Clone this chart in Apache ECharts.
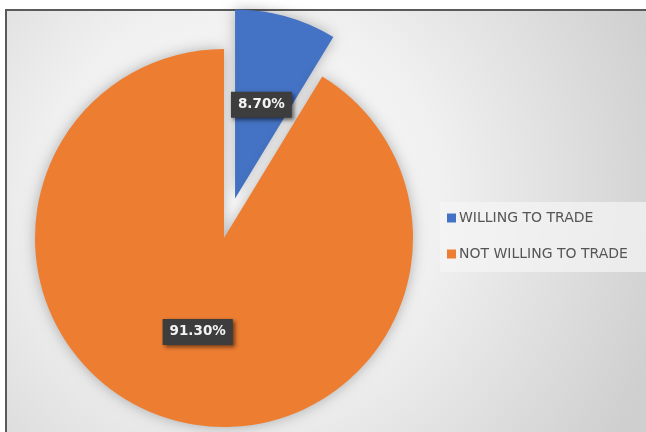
<!DOCTYPE html>
<html>
<head>
<meta charset="utf-8">
<style>
  html, body { margin: 0; padding: 0; background: #ffffff; }
  #chart { width: 646px; height: 432px; }
</style>
<script src="https://cdn.jsdelivr.net/npm/echarts@6/dist/echarts.min.js"></script>
</head>
<body>
<div id="chart"></div>
<script>
// Survey result: share of respondents willing to trade
const categories = ['WILLING TO TRADE', 'NOT WILLING TO TRADE'];
const shares = [8.70, 91.30];
const sliceColors = ['#4472C4', '#ED7D31'];

const chart = echarts.init(document.getElementById('chart'), null, { renderer: 'canvas' });

const pieData = categories.map((name, i) => ({
  name: name,
  value: shares[i],
  selected: i === 0,
  itemStyle: { color: sliceColors[i] }
}));

chart.setOption({
  animation: false,
  backgroundColor: '#ffffff',
  graphic: [
    {
      type: 'rect',
      z: -10,
      silent: true,
      shape: { x: 6, y: 10, width: 660, height: 440 },
      style: {
        fill: {
          type: 'radial', x: 0.36, y: 0.42, r: 1.0,
          colorStops: [
            { offset: 0, color: '#ffffff' },
            { offset: 0.45, color: '#f0f0f0' },
            { offset: 1, color: '#cfcfcf' }
          ]
        },
        stroke: '#5a5a5a',
        lineWidth: 2
      }
    }
  ],
  legend: {
    orient: 'vertical',
    left: 440,
    top: 202,
    padding: [8, 40, 10, 7],
    backgroundColor: 'rgba(245,245,245,0.7)',
    itemWidth: 9,
    itemHeight: 9,
    itemGap: 20,
    icon: 'rect',
    selectedMode: false,
    data: categories,
    textStyle: {
      fontFamily: 'DejaVu Sans',
      fontSize: 14,
      lineHeight: 16,
      color: '#555555',
      padding: [0, 0, 0, -2]
    }
  },
  series: [
    {
      type: 'pie',
      center: [224, 238],
      radius: [0, 189],
      startAngle: 90,
      clockwise: true,
      selectedMode: 'single',
      selectedOffset: 41,
      avoidLabelOverlap: false,
      emphasis: { disabled: true },
      itemStyle: {
        shadowBlur: 14,
        shadowColor: 'rgba(0,0,0,0.28)'
      },
      label: {
        show: true,
        position: 'inside',
        formatter: p => shares[p.dataIndex].toFixed(2) + '%',
        color: '#f4f4f4',
        fontFamily: 'DejaVu Sans',
        fontWeight: 'bold',
        fontSize: 13.5,
        backgroundColor: '#3d3d3d',
        padding: [7, 7, 5, 7],
        shadowColor: 'rgba(0,0,0,0.55)',
        shadowBlur: 4,
        shadowOffsetX: 2,
        shadowOffsetY: 2
      },
      labelLine: { show: false },
      data: pieData
    }
  ]
});
</script>
</body>
</html>
